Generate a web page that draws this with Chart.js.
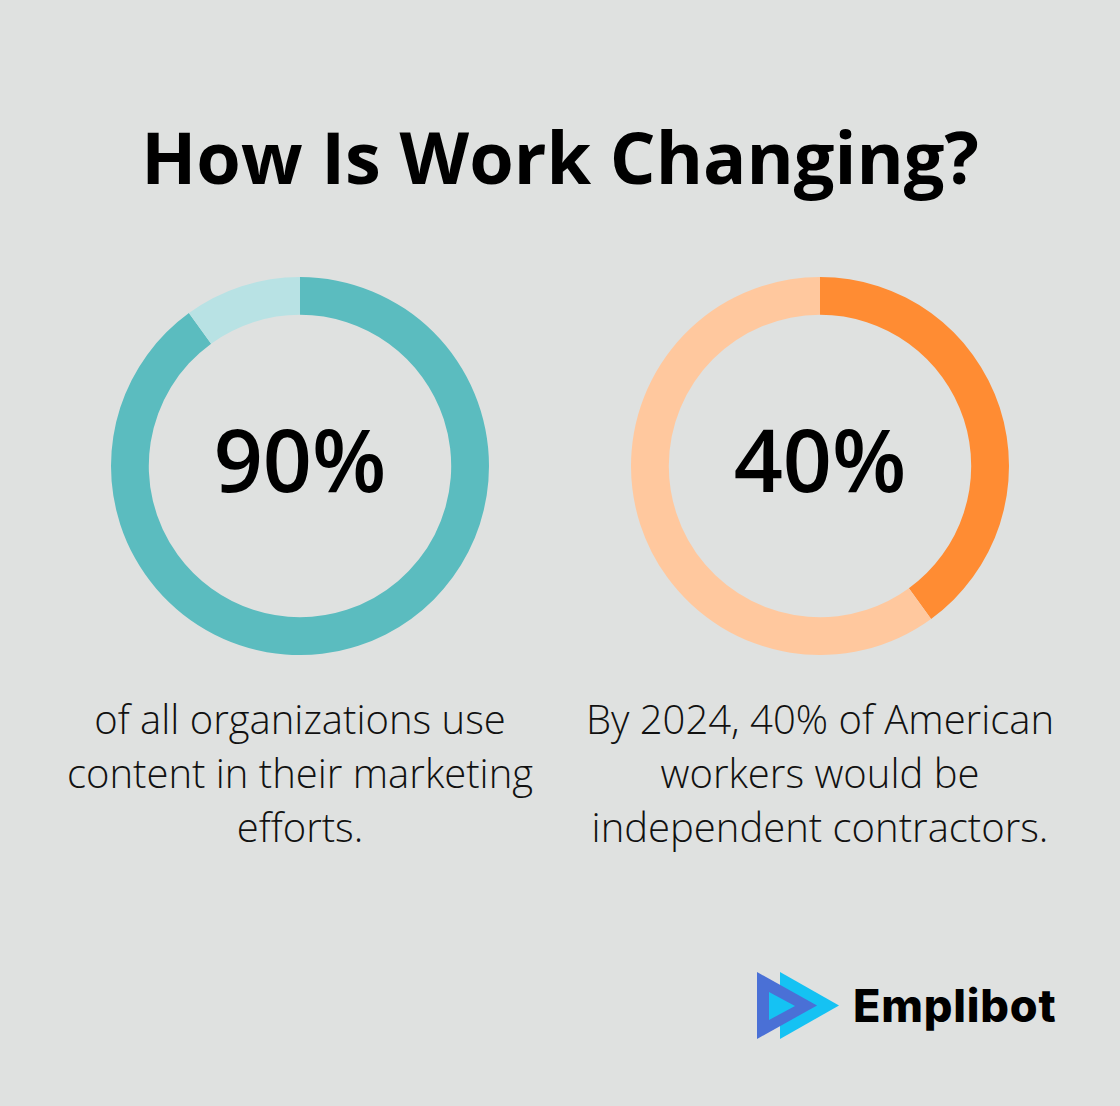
<!DOCTYPE html>
<html>
<head>
<meta charset="utf-8">
<script src="https://cdn.jsdelivr.net/npm/chart.js@4"></script>
<style>
  html, body { margin: 0; padding: 0; }
  body {
    width: 1120px; height: 1106px; position: relative; overflow: hidden;
    background: #dfe1e0; font-family: "Open Sans", sans-serif; color: #000;
  }
  .title {
    position: absolute; left: 0; width: 1120px; top: 120px;
    text-align: center; font-size: 72px; line-height: 72px; font-weight: 700;
  }
  .ring { position: absolute; top: 277px; width: 378px; height: 378px; }
  .big {
    position: absolute; top: 416px; width: 378px; text-align: center;
    font-size: 86px; line-height: 86px; font-weight: 600;
  }
  .desc {
    position: absolute; top: 692px; width: 540px; text-align: center;
    font-size: 40px; line-height: 54px; font-weight: 300; color: #111;
  }
  .logo { position: absolute; left: 755px; top: 968px; }
  .brand {
    position: absolute; left: 853px; top: 978px;
    font-family: Inter, sans-serif; font-weight: 800; font-size: 45px; line-height: 56px;
    letter-spacing: 0.8px;
  }
</style>
</head>
<body>
<div class="title">How Is Work Changing?</div>

<div class="ring" style="left:111px"><canvas id="ringLeft"></canvas></div>
<div class="ring" style="left:631px"><canvas id="ringRight"></canvas></div>

<div class="big" id="bigLeft" style="left:111px"></div>
<div class="big" id="bigRight" style="left:631px"></div>

<div class="desc" style="left:30px">of all organizations use<br>content in their marketing<br>efforts.</div>
<div class="desc" style="left:550px">By 2024, 40% of American<br>workers would be<br>independent contractors.</div>

<svg class="logo" width="90" height="76" viewBox="0 0 90 76">
  <polygon points="25,4 25,71 84,37.5" fill="#15c2f3"/>
  <polygon points="2,4 2,71 62,37.5" fill="#4a70d6"/>
  <polygon points="14,24 14,52 40,38" fill="#15c2f3"/>
</svg>
<div class="brand">Emplibot</div>

<script>
// values
const sliceLabels = ['Share', 'Rest'];
const leftValues = [90, 10];
const rightValues = [40, 60];
const leftColors = ['#5bbcbf', '#b8e2e4'];
const rightColors = ['#ff8c33', '#ffc89e'];

function makeRing(id, values, colors) {
    const ctx = document.getElementById(id).getContext('2d');
    return new Chart(ctx, {
        type: 'doughnut',
        data: {
            labels: sliceLabels,
            datasets: [{
                data: values,
                backgroundColor: colors,
                borderWidth: 0,
                hoverOffset: 0
            }]
        },
        options: {
            responsive: true,
            maintainAspectRatio: false,
            animation: false,
            cutout: '80%',
            layout: { padding: 0 },
            plugins: {
                legend: { display: false },
                tooltip: { enabled: false }
            }
        }
    });
}

makeRing('ringLeft', leftValues, leftColors);
makeRing('ringRight', rightValues, rightColors);
document.getElementById('bigLeft').textContent = leftValues[0] + '%';
document.getElementById('bigRight').textContent = rightValues[0] + '%';
</script>
</body>
</html>
